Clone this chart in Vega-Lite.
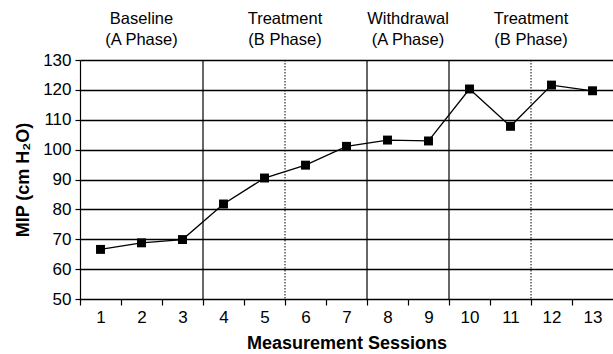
{
  "$schema": "https://vega.github.io/schema/vega-lite/v6.json",
  "autosize": {"type": "none"},
  "width": 533,
  "height": 239,
  "padding": {"left": 80, "top": 60, "right": 0, "bottom": 55},
  "config": {
    "font": "Liberation Sans",
    "view": {"stroke": null},
    "axis": {"labelFontSize": 17, "labelColor": "black", "titleColor": "black", "titleFontSize": 18, "titleFontWeight": "bold", "domainColor": "black", "tickColor": "black", "labelOverlap": false}
  },
  "datasets": {
    "mip": [
      {"session": 1, "mip": 66.6},
      {"session": 2, "mip": 68.8},
      {"session": 3, "mip": 69.9},
      {"session": 4, "mip": 81.8},
      {"session": 5, "mip": 90.5},
      {"session": 6, "mip": 94.8},
      {"session": 7, "mip": 101.1},
      {"session": 8, "mip": 103.2},
      {"session": 9, "mip": 102.9},
      {"session": 10, "mip": 120.3},
      {"session": 11, "mip": 107.8},
      {"session": 12, "mip": 121.6},
      {"session": 13, "mip": 119.7}
    ],
    "bounds": [
      {"pos": 3.5, "kind": "solid"},
      {"pos": 5.5, "kind": "dotted"},
      {"pos": 7.5, "kind": "solid"},
      {"pos": 9.5, "kind": "solid"},
      {"pos": 11.5, "kind": "dotted"}
    ],
    "phases": [
      {"pos": 2, "y": 142, "label": "Baseline\n(A Phase)"},
      {"pos": 5.5, "y": 142, "label": "Treatment\n(B Phase)"},
      {"pos": 8.5, "y": 142, "label": "Withdrawal\n(A Phase)"},
      {"pos": 11.5, "y": 142, "label": "Treatment\n(B Phase)"}
    ]
  },
  "layer": [
    {
      "data": {"name": "mip"},
      "mark": {"type": "line", "color": "black", "strokeWidth": 1.3, "point": {"shape": "square", "filled": true, "color": "black", "size": 80, "opacity": 1}},
      "encoding": {
        "x": {
          "field": "session", "type": "quantitative",
          "scale": {"domain": [0.5, 13.5], "nice": false, "zero": false},
          "axis": {"values": [1,2,3,4,5,6,7,8,9,10,11,12,13], "tickCount": 13, "grid": false, "tickOffset": -20.5, "labelOffset": 20.5, "tickSize": 6, "labelPadding": 4, "title": "Measurement Sessions", "titlePadding": 9, "domainWidth": 1.2, "tickWidth": 1.2}
        },
        "y": {
          "field": "mip", "type": "quantitative",
          "scale": {"domain": [50, 130], "nice": false, "zero": false},
          "axis": {"values": [50,60,70,80,90,100,110,120,130], "tickCount": 9, "grid": true, "gridColor": "black", "gridWidth": 1.5, "gridOpacity": 1, "tickSize": 5, "labelPadding": 4, "title": "MIP (cm H₂O)", "titlePadding": 10, "domainWidth": 1.2, "tickWidth": 1.2}
        }
      }
    },
    {
      "data": {"name": "bounds"},
      "transform": [{"filter": "datum.kind === 'solid'"}],
      "mark": {"type": "rule", "color": "black", "strokeWidth": 1.2},
      "encoding": {"x": {"field": "pos", "type": "quantitative"}}
    },
    {
      "data": {"name": "bounds"},
      "transform": [{"filter": "datum.kind === 'dotted'"}],
      "mark": {"type": "rule", "color": "black", "strokeWidth": 1, "strokeDash": [1.5, 1.5]},
      "encoding": {"x": {"field": "pos", "type": "quantitative"}}
    },
    {
      "data": {"name": "phases"},
      "mark": {"type": "text", "lineBreak": "\n", "fontSize": 16.5, "color": "black", "baseline": "alphabetic", "lineHeight": 21, "align": "center"},
      "encoding": {
        "x": {"field": "pos", "type": "quantitative"},
        "y": {"field": "y", "type": "quantitative"},
        "text": {"field": "label"}
      }
    }
  ]
}
